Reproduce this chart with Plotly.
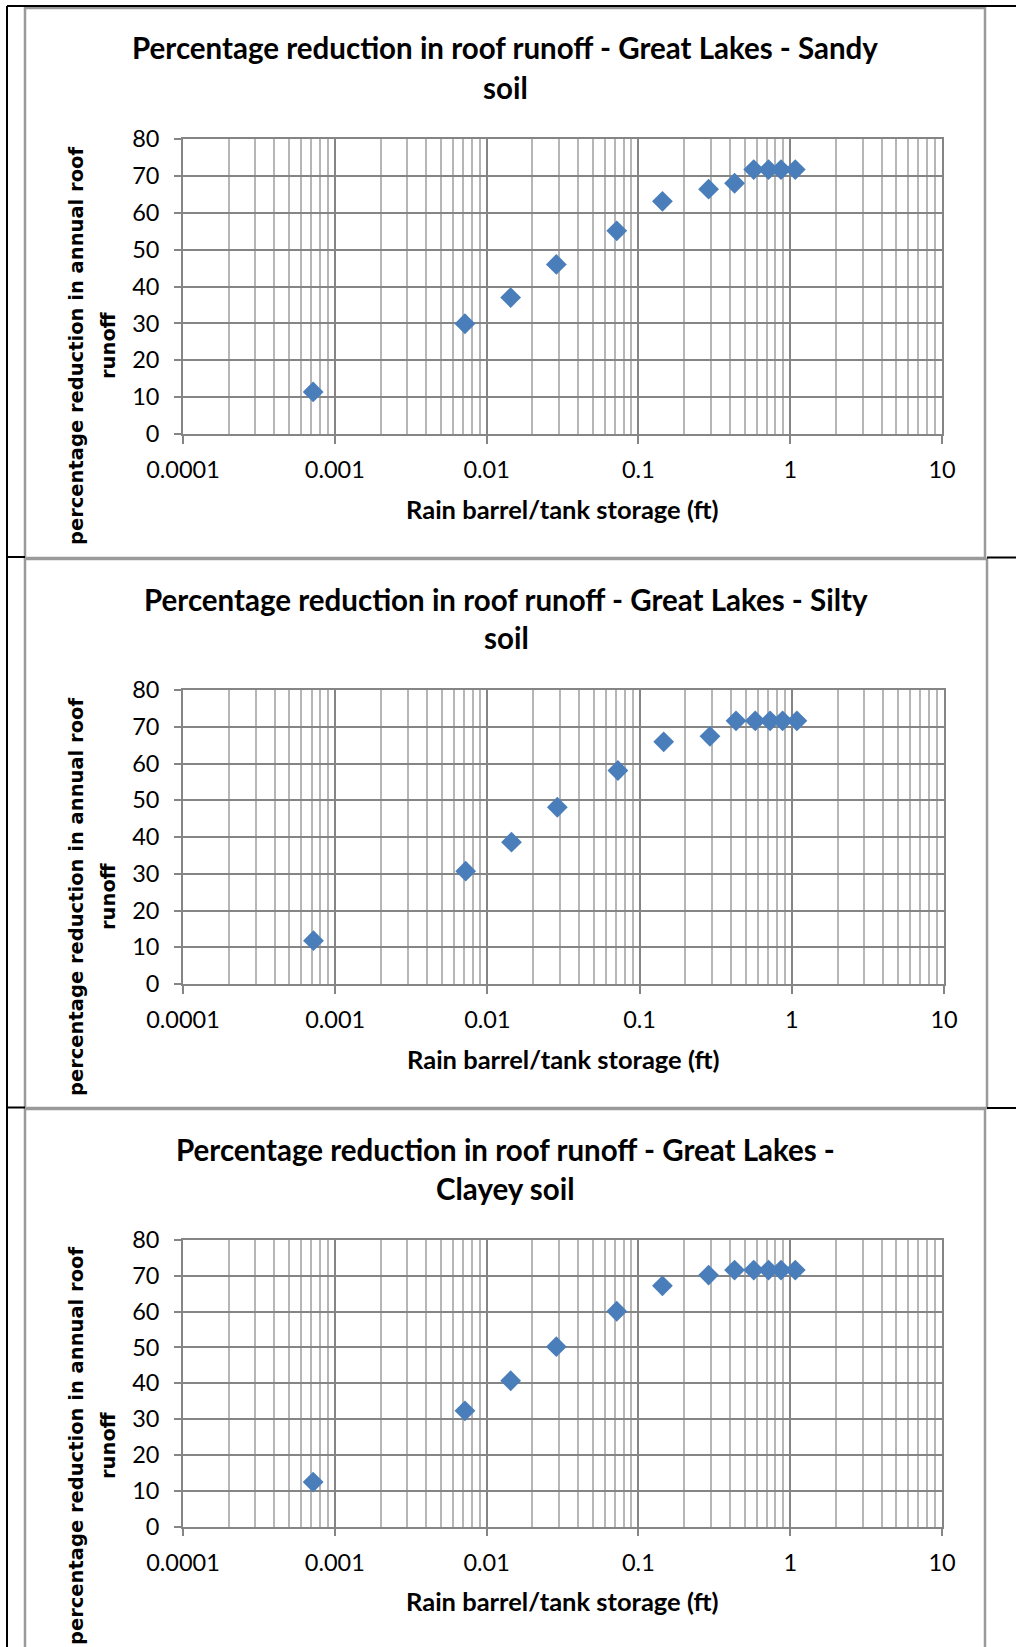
import plotly.graph_objects as go

# ---------------- data ----------------
storage_ft = [0.00072, 0.0072, 0.0144, 0.0288, 0.072, 0.144, 0.29, 0.43, 0.575, 0.72, 0.87, 1.08]
sandy = [11.4, 29.9, 37.0, 46.0, 55.1, 63.1, 66.4, 68.0, 71.7, 71.7, 71.7, 71.7]
silty = [11.8, 30.7, 38.6, 48.1, 58.1, 65.9, 67.4, 71.6, 71.6, 71.6, 71.6, 71.6]
clayey = [12.4, 32.3, 40.7, 50.2, 60.1, 67.2, 70.2, 71.6, 71.6, 71.6, 71.6, 71.6]

titles_line1 = ["Percentage reduction in roof runoff - Great Lakes - Sandy",
                "Percentage reduction in roof runoff - Great Lakes - Silty",
                "Percentage reduction in roof runoff - Great Lakes -"]
titles_line2 = ["soil", "soil", "Clayey soil"]
x_title = "Rain barrel/tank storage (ft)"
y_title_line1 = "percentage reduction in annual roof"
y_title_line2 = "runoff"
x_tickvals = [0.0001, 0.001, 0.01, 0.1, 1, 10]
x_ticktext = ["0.0001", "0.001", "0.01", "0.1", "1", "10"]
y_tickvals = [0, 10, 20, 30, 40, 50, 60, 70, 80]

W, H = 1016, 1647
def px(x):
    return x / W
def py(y):
    return 1 - y / H

# panel geometry (pixels): plot area, chart box, text positions
panels = [
    dict(series=sandy, plot=(183, 942, 139, 434), box=(25, 985, 8, 558),
         t1=48, t2=87, xlab=508.5, ytc=346),
    dict(series=silty, plot=(183, 944, 690, 984), box=(25, 987, 559, 1108),
         t1=599, t2=638, xlab=1059, ytc=897),
    dict(series=clayey, plot=(183, 942, 1240, 1526.5), box=(25, 985, 1109, 1660),
         t1=1149.5, t2=1188.5, xlab=1601, ytc=1446),
]

MAJOR = "#858585"
MINOR = "#b6b6b6"
BLUE = "#4a7ebb"
TICKFONT = dict(family="Lato", size=23.5, color="black")
TITLEFONT = dict(family="Lato", size=29.5, color="black", weight="bold")
XTFONT = dict(family="Lato", size=25.5, color="black", weight="bold")
YTFONT = dict(family="DejaVu Sans", size=19.5, color="black", weight="bold")

minor_vals = [d * 10 ** e for e in range(-4, 1) for d in range(2, 10)]

fig = go.Figure()
shapes = []
annotations = []

for i, p in enumerate(panels):
    n = "" if i == 0 else str(i + 1)
    xl, xr, yt, yb = p["plot"]
    fig.add_trace(go.Scatter(
        x=storage_ft, y=p["series"], mode="markers",
        marker=dict(symbol="diamond", size=16, color=BLUE, line=dict(width=0)),
        xaxis="x" + n, yaxis="y" + n, showlegend=False, cliponaxis=False))
    fig.update_layout(**{
        "xaxis" + n: dict(
            type="log", range=[-4, 1], domain=[px(xl), px(xr)],
            anchor="y" + n, tickmode="array", tickvals=x_tickvals, ticktext=x_ticktext,
            showgrid=True, gridcolor=MAJOR, gridwidth=1.6,
            showline=True, linecolor=MAJOR, linewidth=1.6, mirror=True,
            ticks="outside", ticklen=8, tickcolor=MAJOR, tickwidth=1.6,
            tickfont=TICKFONT, ticklabelstandoff=6, zeroline=False, automargin=False,
            minor=dict(tickmode="array", tickvals=minor_vals, showgrid=True,
                       gridcolor=MINOR, gridwidth=1.5, ticks=""),
        ),
        "yaxis" + n: dict(
            range=[0, 80], domain=[py(yb), py(yt)], anchor="x" + n,
            tickmode="array", tickvals=y_tickvals,
            showgrid=True, gridcolor=MAJOR, gridwidth=1.6,
            showline=True, linecolor=MAJOR, linewidth=1.6, mirror=True,
            ticks="outside", ticklen=7, tickcolor=MAJOR, tickwidth=1.6,
            tickfont=TICKFONT, ticklabelstandoff=10, zeroline=False, automargin=False,
        ),
    })
    bl, br, bt, bb = p["box"]
    shapes.append(dict(type="rect", xref="paper", yref="paper",
                       x0=px(bl), x1=px(br), y0=py(bb), y1=py(bt),
                       line=dict(color="#9a9a9a", width=2.5), fillcolor="rgba(0,0,0,0)",
                       layer="below"))
    cx = (bl + br) / 2
    annotations.append(dict(text=titles_line1[i], x=px(cx), y=py(p["t1"]), xref="paper", yref="paper",
                            xanchor="center", yanchor="middle", showarrow=False, font=TITLEFONT))
    annotations.append(dict(text=titles_line2[i], x=px(cx), y=py(p["t2"]), xref="paper", yref="paper",
                            xanchor="center", yanchor="middle", showarrow=False, font=TITLEFONT))
    annotations.append(dict(text=x_title, x=px((xl + xr) / 2), y=py(p["xlab"]), xref="paper", yref="paper",
                            xanchor="center", yanchor="middle", showarrow=False, font=XTFONT))
    annotations.append(dict(text=y_title_line1, x=px(76), y=py(p["ytc"]), xref="paper", yref="paper",
                            xanchor="center", yanchor="middle", showarrow=False, textangle=-90, font=YTFONT))
    annotations.append(dict(text=y_title_line2, x=px(108), y=py(p["ytc"]), xref="paper", yref="paper",
                            xanchor="center", yanchor="middle", showarrow=False, textangle=-90, font=YTFONT))

# outer black table lines
blk = dict(color="black", width=2)
shapes += [
    dict(type="line", xref="paper", yref="paper", x0=px(7), x1=px(7), y0=0, y1=py(6), line=blk),
    dict(type="line", xref="paper", yref="paper", x0=px(7), x1=1, y0=py(6), y1=py(6), line=blk),
    dict(type="line", xref="paper", yref="paper", x0=px(7), x1=px(25), y0=py(557), y1=py(557), line=blk),
    dict(type="line", xref="paper", yref="paper", x0=px(987), x1=1, y0=py(557.5), y1=py(557.5), line=blk),
    dict(type="line", xref="paper", yref="paper", x0=px(7), x1=px(25), y0=py(1107.5), y1=py(1107.5), line=blk),
    dict(type="line", xref="paper", yref="paper", x0=px(987), x1=1, y0=py(1108), y1=py(1108), line=blk),
]

fig.update_layout(width=W, height=H, margin=dict(l=0, r=0, t=0, b=0, autoexpand=False),
                  paper_bgcolor="white", plot_bgcolor="white",
                  shapes=shapes, annotations=annotations, showlegend=False)

fig.write_html("out.html", config={"displayModeBar": False},
               post_script="document.body.style.margin='0px';document.body.style.overflow='hidden';")
